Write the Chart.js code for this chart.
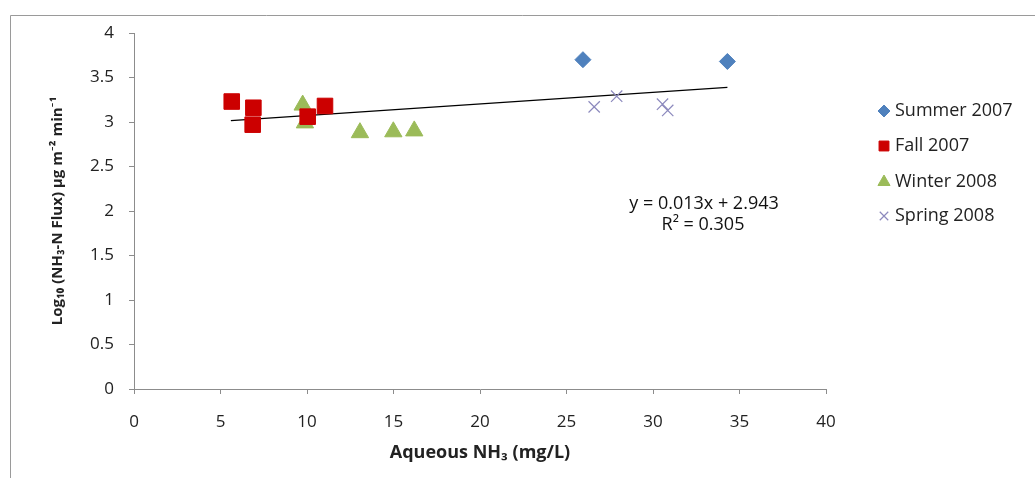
<!DOCTYPE html>
<html>
<head>
<meta charset="utf-8">
<script src="https://cdn.jsdelivr.net/npm/chart.js@4"></script>
<style>
  html, body { margin: 0; padding: 0; background: #fff; }
  #wrap { width: 1035px; height: 478px; }
</style>
</head>
<body>
<div id="wrap"><canvas id="flux" width="1035" height="478"></canvas></div>
<script>
// values
var summerX = [25.95, 34.3];
var summerY = [3.70, 3.68];
var fallX = [5.65, 6.9, 6.86, 10.04, 11.04];
var fallY = [3.23, 3.16, 2.97, 3.06, 3.18];
var winterX = [9.75, 9.88, 13.06, 14.99, 16.2];
var winterY = [3.19, 2.99, 2.88, 2.89, 2.90];
var springX = [26.6, 27.9, 30.55, 30.85];
var springY = [3.17, 3.29, 3.20, 3.13];
var trendX = [5.6, 34.3];
var slope = 0.013, intercept = 2.943;
var eqText = ['y = 0.013x + 2.943', 'R\u00b2 = 0.305'];

var FONT = '"Open Sans", Lato, sans-serif';

function pts(xs, ys) {
    return xs.map(function (x, i) { return {x: x, y: ys[i]}; });
}

// frame round the whole chart
var framePlugin = {
    id: 'frame',
    beforeDraw: function (chart) {
        var c = chart.ctx;
        c.save();
        c.strokeStyle = '#9a9a9a';
        c.lineWidth = 1;
        c.beginPath();
        c.moveTo(10.5, 478);
        c.lineTo(10.5, 15.5);
        c.lineTo(1035, 15.5);
        c.stroke();
        c.restore();
    }
};

// equation text next to the trend line
var eqPlugin = {
    id: 'eq',
    afterDraw: function (chart) {
        var c = chart.ctx;
        c.save();
        c.font = '18px ' + FONT;
        c.fillStyle = '#111';
        c.textAlign = 'center';
        c.textBaseline = 'middle';
        c.fillText(eqText[0], 704, 204);
        c.fillText(eqText[1], 703, 225);
        c.restore();
    }
};

// legend on the right, drawn from the datasets
var legendPlugin = {
    id: 'sideLegend',
    afterDraw: function (chart) {
        var c = chart.ctx;
        var rows = [111, 146, 182, 216];
        var sizes = [6, 7, 7, 6];
        var n = 0;
        chart.data.datasets.forEach(function (ds) {
            if (ds.noLegend) return;
            var y = rows[n];
            c.save();
            c.fillStyle = ds.backgroundColor;
            c.strokeStyle = ds.borderColor;
            c.lineWidth = ds.pointBorderWidth || 1;
            Chart.helpers.drawPoint(c, {
                pointStyle: ds.pointStyle,
                radius: sizes[n],
                borderWidth: ds.pointBorderWidth || 1
            }, 884, y);
            c.font = '18px ' + FONT;
            c.fillStyle = '#222';
            c.textAlign = 'left';
            c.textBaseline = 'middle';
            c.fillText(ds.label, 895, y);
            c.restore();
            n++;
        });
    }
};

var ctx = document.getElementById('flux').getContext('2d');
var fluxChart = new Chart(ctx, {
    type: 'scatter',
    data: {
        datasets: [{
            label: 'Summer 2007',
            data: pts(summerX, summerY),
            pointStyle: 'rectRot',
            pointRadius: 8,
            backgroundColor: '#4f81bd',
            borderColor: '#4f81bd'
        }, {
            label: 'Fall 2007',
            data: pts(fallX, fallY),
            pointStyle: 'rect',
            pointRadius: 11,
            backgroundColor: '#cc0000',
            borderColor: '#cc0000'
        }, {
            label: 'Winter 2008',
            data: pts(winterX, winterY),
            pointStyle: 'triangle',
            pointRadius: 10,
            backgroundColor: '#9bbb59',
            borderColor: '#9bbb59'
        }, {
            label: 'Spring 2008',
            data: pts(springX, springY),
            pointStyle: 'crossRot',
            pointRadius: 8,
            pointBorderWidth: 1.2,
            backgroundColor: '#8c89bd',
            borderColor: '#8c89bd'
        }, {
            label: 'trend',
            noLegend: true,
            data: trendX.map(function (x) { return {x: x, y: slope * x + intercept}; }),
            showLine: true,
            pointRadius: 0,
            borderColor: '#000',
            borderWidth: 1.2,
            backgroundColor: '#000'
        }]
    },
    options: {
        responsive: false,
        animation: false,
        layout: {
            padding: {left: 0, top: 33, right: 209, bottom: 0}
        },
        plugins: {
            legend: {display: false},
            tooltip: {enabled: false}
        },
        scales: {
            x: {
                type: 'linear',
                min: 0,
                max: 40,
                afterFit: function (s) { s.height = 89; },
                ticks: {stepSize: 5, color: '#222', font: {family: FONT, size: 17}, padding: 18},
                grid: {drawOnChartArea: false, drawTicks: true, tickLength: 5, color: '#8c8c8c'},
                border: {color: '#8c8c8c'},
                title: {
                    display: true,
                    text: 'Aqueous NH\u2083 (mg/L)',
                    color: '#222',
                    font: {family: FONT, size: 18, weight: 'bold'},
                    padding: {top: 0, bottom: 14}
                }
            },
            y: {
                min: 0,
                max: 4,
                afterFit: function (s) { s.width = 134; },
                ticks: {
                    stepSize: 0.5, color: '#222', font: {family: FONT, size: 17}, padding: 15,
                    callback: function (v) { return String(v); }
                },
                grid: {drawOnChartArea: false, drawTicks: true, tickLength: 5, color: '#8c8c8c'},
                border: {color: '#8c8c8c'},
                title: {
                    display: true,
                    text: 'Log\u2081\u2080 (NH\u2083-N Flux) \u00b5g m\u207b\u00b2 min\u207b\u00b9',
                    color: '#222',
                    font: {family: FONT, size: 15, weight: 'bold'},
                    padding: {top: 49, bottom: 0}
                }
            }
        }
    },
    plugins: [framePlugin, eqPlugin, legendPlugin]
});
</script>
</body>
</html>
